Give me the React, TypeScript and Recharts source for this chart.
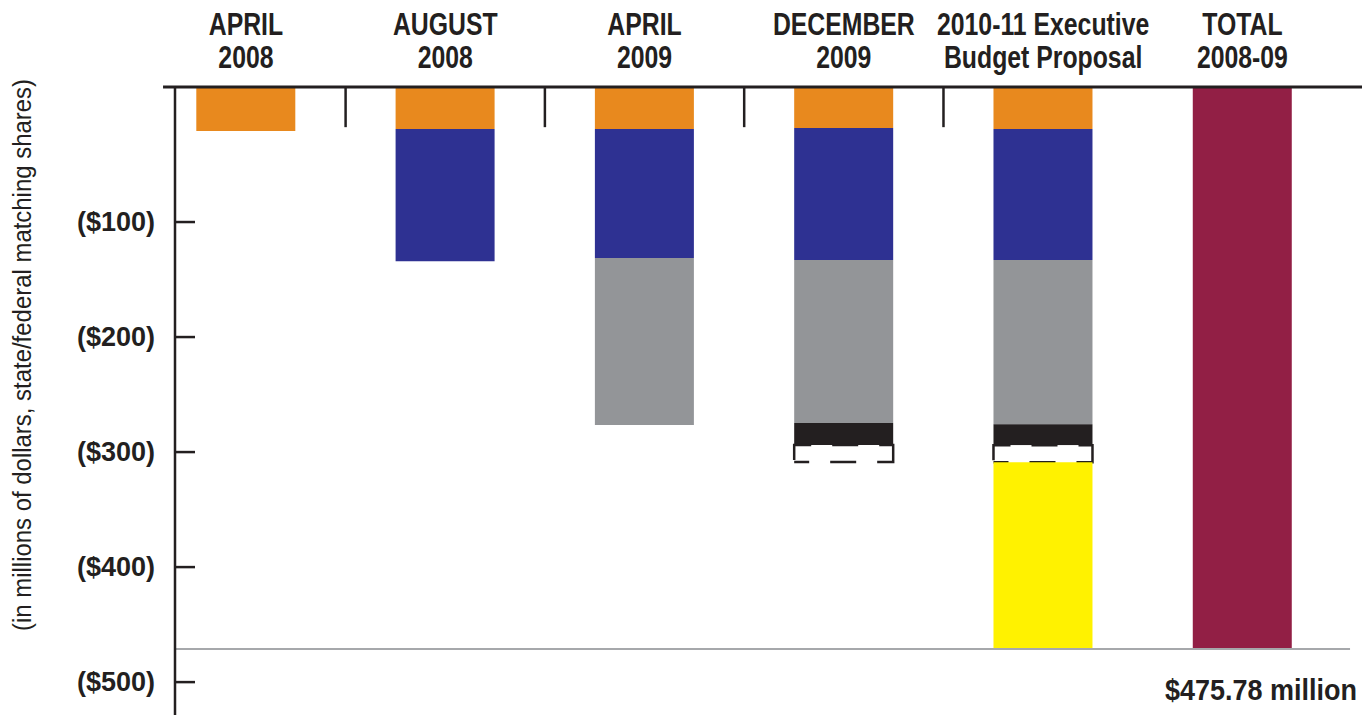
import { ComposedChart, Bar, XAxis, YAxis, ReferenceLine } from "recharts";

const headerTop = ["APRIL", "AUGUST", "APRIL", "DECEMBER", "2010-11 Executive", "TOTAL"];
const headerBottom = ["2008", "2008", "2009", "2009", "Budget Proposal", "2008-09"];

// reductions in millions of dollars
const orange = [37.3, 35.6, 35.6, 34.7, 35.6, 0];
const blue = [0, 111.8, 109.2, 111.8, 110.9, 0];
const gray = [0, 0, 141.4, 138.0, 138.9, 0];
const black = [0, 0, 0, 18.6, 17.8, 0];
const pending = [0, 0, 0, 14.4, 14.4, 0];
const yellow = [0, 0, 0, 0, 158.2, 0];
const total = [0, 0, 0, 0, 0, 475.78];

const yTicks = [100, 200, 300, 400, 500];
const separators = [0.5, 1.5, 2.5, 3.5];
const totalLabel = "$475.78 million";

const data = headerTop.map((_, i) => ({
  idx: i,
  orange: orange[i],
  blue: blue[i],
  gray: gray[i],
  black: black[i],
  pending: pending[i],
  yellow: yellow[i],
  total: total[i],
}));

const INK = "#231F20";
const FONT = "'Liberation Sans', Arial, sans-serif";

// the original uses a condensed bold face, squeeze Liberation Sans to match
function HeaderTick(props: any) {
  const { x, y, payload } = props;
  const i = payload.value;
  return (
    <g transform={`translate(${x},${y}) scale(0.8,1)`}>
      <text x={0} y={-52} textAnchor="middle" fontFamily={FONT} fontWeight={700} fontSize={31} fill={INK}>
        {headerTop[i]}
      </text>
      <text x={0} y={-19} textAnchor="middle" fontFamily={FONT} fontWeight={700} fontSize={31} fill={INK}>
        {headerBottom[i]}
      </text>
    </g>
  );
}

function MoneyTick(props: any) {
  const { x, y, payload } = props;
  return (
    <g>
      <line x1={x} x2={x + 20} y1={y} y2={y} stroke={INK} strokeWidth={2.5} />
      <text x={x - 20} y={y + 9} textAnchor="end" fontFamily={FONT} fontWeight={700} fontSize={27} fill={INK}>
        {`($${payload.value})`}
      </text>
    </g>
  );
}

function AxisTitle() {
  const cx = 22;
  const cy = 355;
  return (
    <text
      x={cx}
      y={cy}
      transform={`rotate(-90 ${cx} ${cy})`}
      textAnchor="middle"
      fontFamily={FONT}
      fontSize={26}
      fill={INK}
      dominantBaseline="central"
      textLength={552}
      lengthAdjust="spacingAndGlyphs"
    >
      (in millions of dollars, state/federal matching shares)
    </text>
  );
}

function TotalText(props: any) {
  const vb = props.viewBox || {};
  const right = (vb.x || 0) + (vb.width || 0) + 7;
  const base = (vb.y || 0) + 51;
  return (
    <g transform={`translate(${right},${base}) scale(0.9,1)`}>
      <text x={0} y={0} textAnchor="end" fontFamily={FONT} fontWeight={700} fontSize={30} fill={INK}>
        {totalLabel}
      </text>
    </g>
  );
}

export default function App() {
  return (
    <div style={{ width: 1369, height: 715 }}>
      <style>{`body{margin:0}`}</style>
      <ComposedChart width={1369} height={715} data={data} margin={{ top: 0, right: 7, bottom: 0, left: 0 }}>
        <XAxis
          dataKey="idx"
          type="number"
          orientation="top"
          domain={[-0.356, 5.6]}
          allowDataOverflow
          ticks={[0, 1, 2, 3, 4, 5]}
          height={87}
          tickSize={0}
          tickMargin={0}
          tickLine={false}
          axisLine={{ stroke: INK, strokeWidth: 3 }}
          tick={<HeaderTick />}
        />
        <YAxis
          yAxisId="ticks"
          type="number"
          domain={[-17.4, 528.6]}
          reversed
          allowDataOverflow
          ticks={yTicks}
          width={175}
          tickSize={0}
          tickMargin={0}
          tickLine={false}
          axisLine={{ stroke: INK, strokeWidth: 2.5 }}
          tick={<MoneyTick />}
          label={<AxisTitle />}
        />
        <YAxis yAxisId="bars" type="number" domain={[0, 531.6]} reversed allowDataOverflow hide width={0} />
        {/* short stub of the top rule to the left of the value axis */}
        <ReferenceLine
          yAxisId="bars"
          segment={[
            { x: -0.416, y: 0 },
            { x: -0.356, y: 0 },
          ]}
          ifOverflow="visible"
          stroke={INK}
          strokeWidth={3}
        />
        {separators.map((s) => (
          <ReferenceLine
            key={s}
            yAxisId="bars"
            segment={[
              { x: s, y: 0 },
              { x: s, y: 34 },
            ]}
            stroke={INK}
            strokeWidth={2.5}
          />
        ))}
        <Bar yAxisId="bars" dataKey="orange" stackId="s" barSize={99} fill="#E8891E" isAnimationActive={false} />
        <Bar yAxisId="bars" dataKey="blue" stackId="s" barSize={99} fill="#2E3192" isAnimationActive={false} />
        <Bar yAxisId="bars" dataKey="gray" stackId="s" barSize={99} fill="#939598" isAnimationActive={false} />
        <Bar yAxisId="bars" dataKey="black" stackId="s" barSize={99} fill={INK} isAnimationActive={false} />
        <Bar
          yAxisId="bars"
          dataKey="pending"
          stackId="s"
          barSize={99}
          fill="#FFFFFF"
          stroke={INK}
          strokeWidth={2.5}
          strokeDasharray="15 21 26 21 47 21 26 21 32"
          isAnimationActive={false}
        />
        <Bar yAxisId="bars" dataKey="yellow" stackId="s" barSize={99} fill="#FFF200" isAnimationActive={false} />
        <Bar yAxisId="bars" dataKey="total" stackId="s" barSize={99} fill="#921F45" isAnimationActive={false} />
        <ReferenceLine
          yAxisId="bars"
          segment={[
            { x: -0.356, y: total[5] },
            { x: 5.54, y: total[5] },
          ]}
          ifOverflow="visible"
          stroke="#A6A8AB"
          strokeWidth={2}
          label={<TotalText />}
        />
      </ComposedChart>
    </div>
  );
}
